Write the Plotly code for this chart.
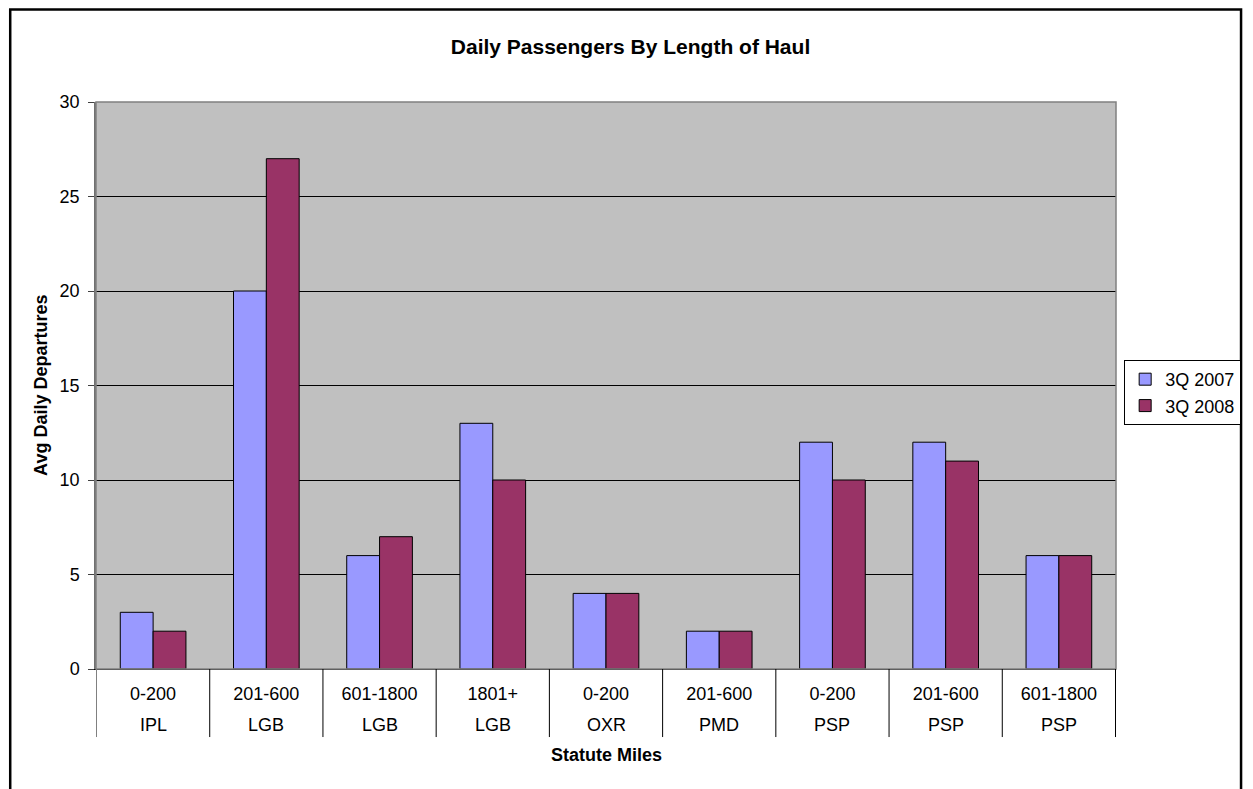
import plotly.graph_objects as go

MILES = ["0-200", "201-600", "601-1800", "1801+", "0-200", "201-600", "0-200", "201-600", "601-1800"]
AIRPORTS = ["IPL", "LGB", "LGB", "LGB", "OXR", "PMD", "PSP", "PSP", "PSP"]
Q3_2007 = [3, 20, 6, 13, 4, 2, 12, 12, 6]
Q3_2008 = [2, 27, 7, 10, 4, 2, 10, 11, 6]

FONT = "Liberation Sans, Arial, sans-serif"
# category keys must be unique; show only the mileage part on the axis
keys = [f"{m} {a}" for m, a in zip(MILES, AIRPORTS)]

fig = go.Figure()
fig.add_trace(go.Bar(x=keys, y=Q3_2007, name="3Q 2007",
                     marker=dict(color="#9999FF", line=dict(color="black", width=1))))
fig.add_trace(go.Bar(x=keys, y=Q3_2008, name="3Q 2008",
                     marker=dict(color="#993366", line=dict(color="black", width=1))))

shapes = [
    # plot area border
    dict(type="rect", xref="paper", yref="paper", x0=0, x1=1, y0=0, y1=1,
         line=dict(color="#808080", width=1.5), layer="above"),
    # outer chart border
    dict(type="rect", xref="paper", yref="paper", x0=-0.0841, x1=1.1226, y0=-0.25, y1=1.1631,
         line=dict(color="black", width=2.5)),
]
for i in range(len(keys) + 1):
    shapes.append(dict(type="line", xref="x", yref="paper", x0=i - 0.5, x1=i - 0.5,
                       y0=0, y1=-0.12, line=dict(color="black" if i > 0 else "#808080", width=1)))

annotations = [
    dict(text="<b>Avg Daily Departures</b>", xref="paper", yref="paper", x=-0.0545, y=0.5,
         xanchor="center", yanchor="middle", textangle=-90, showarrow=False, font=dict(size=18)),
    dict(text="<b>Statute Miles</b>", xref="paper", yref="paper", x=0.5, y=-0.1517,
         xanchor="center", yanchor="middle", showarrow=False, font=dict(size=18)),
]
for k, a in zip(keys, AIRPORTS):
    annotations.append(dict(text=a, xref="x", yref="paper", x=k, y=-0.0988,
                            xanchor="center", yanchor="middle", showarrow=False,
                            font=dict(size=18)))

fig.update_layout(
    width=1245, height=781,
    paper_bgcolor="white", plot_bgcolor="#C0C0C0",
    font=dict(family=FONT, size=18, color="black"),
    margin=dict(l=88, r=129, t=94, b=120),
    bargap=0.42, bargroupgap=0,
    title=dict(text="<b>Daily Passengers By Length of Haul</b>", x=0.5, xanchor="center",
               y=1 - 39 / 781, yanchor="middle", yref="container",
               font=dict(family=FONT, size=21, color="black")),
    legend=dict(x=1.008, y=0.545, xanchor="left", yanchor="top", bgcolor="white",
                bordercolor="black", borderwidth=1, font=dict(size=18),
                itemwidth=30, tracegroupgap=0),
    shapes=shapes,
    annotations=annotations,
)
fig.update_xaxes(type="category", showline=True, linecolor="black", linewidth=1,
                 tickmode="array", tickvals=keys, ticktext=MILES,
                 ticks="outside", ticklen=8, tickcolor="rgba(0,0,0,0)", showgrid=False,
                 tickfont=dict(size=18))
fig.update_yaxes(range=[0, 30], dtick=5, showline=True, linecolor="#707070", linewidth=1.5,
                 ticks="outside", ticklen=6, tickcolor="#404040", showgrid=True,
                 gridcolor="black", gridwidth=1, zeroline=False, tickfont=dict(size=18),
                 ticklabelstandoff=5)

fig.write_html("out.html")
